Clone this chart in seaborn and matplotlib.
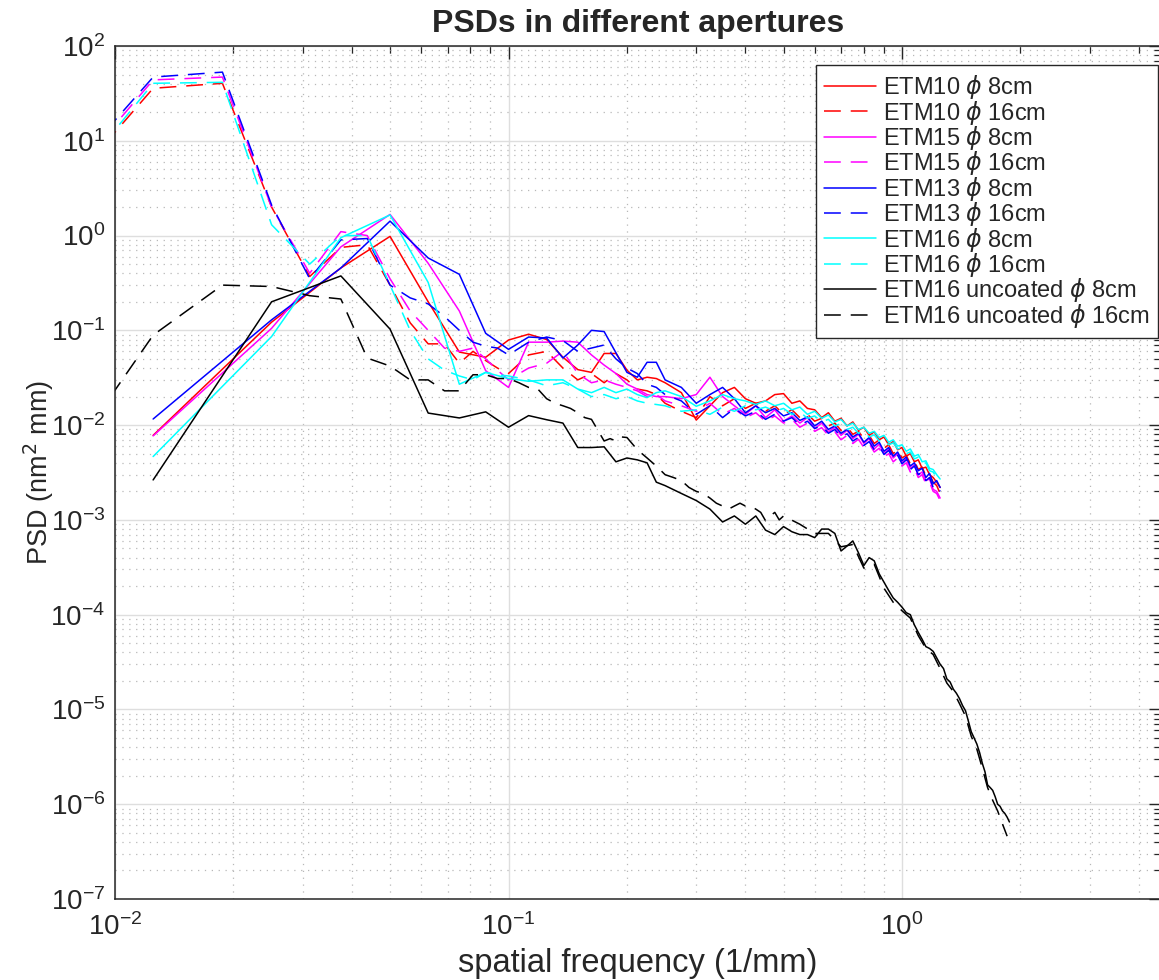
import numpy as np
import pandas as pd
import matplotlib
matplotlib.use("Agg")
import matplotlib.pyplot as plt
from matplotlib.ticker import FixedLocator, LogLocator, NullFormatter
import seaborn as sns

# ---------------- data ----------------
# frequency grids (1/mm)
F8 = [0.0125, 0.025, 0.0375, 0.05, 0.0625, 0.075, 0.0875, 0.1, 0.1125, 0.125,
      0.1375, 0.15, 0.1625, 0.175, 0.1875, 0.2, 0.2125, 0.225, 0.2375, 0.25,
      0.275, 0.3, 0.325, 0.35, 0.375, 0.4, 0.425, 0.45, 0.475, 0.5,
      0.525, 0.55, 0.575, 0.6, 0.625, 0.65, 0.675, 0.7, 0.725, 0.75,
      0.775, 0.8, 0.825, 0.85, 0.875, 0.9, 0.925, 0.95, 0.975, 1.0,
      1.025, 1.05, 1.075, 1.1, 1.125, 1.15, 1.175, 1.2, 1.225, 1.25]

F16 = [0.00625, 0.0125, 0.01875, 0.025, 0.03125, 0.0375, 0.04375, 0.05, 0.05625, 0.0625,
       0.06875, 0.075, 0.08125, 0.0875, 0.09375, 0.1, 0.1125, 0.125, 0.1375, 0.15,
       0.1625, 0.175, 0.1875, 0.2, 0.2125, 0.225, 0.2375, 0.25,
       0.275, 0.3, 0.325, 0.35, 0.375, 0.4, 0.425, 0.45, 0.475, 0.5,
       0.525, 0.55, 0.575, 0.6, 0.625, 0.65, 0.675, 0.7, 0.725, 0.75,
       0.775, 0.8, 0.825, 0.85, 0.875, 0.9, 0.925, 0.95, 0.975, 1.0,
       1.025, 1.05, 1.075, 1.1, 1.125, 1.15, 1.175, 1.2, 1.225, 1.25]

FB8 = [0.0125, 0.025, 0.0375, 0.05, 0.0625, 0.075, 0.0875, 0.1, 0.1125, 0.125,
       0.1375, 0.15, 0.1625, 0.175, 0.1875, 0.2, 0.2125, 0.225, 0.2375, 0.25,
       0.275, 0.3, 0.325, 0.35, 0.375, 0.4, 0.425, 0.45, 0.475, 0.5,
       0.525, 0.55, 0.575, 0.6, 0.625, 0.65, 0.675, 0.7, 0.725, 0.75,
       0.775, 0.8, 0.825, 0.85, 0.875, 0.9, 0.925, 0.95, 0.975, 1.0,
       1.025, 1.05, 1.075, 1.1, 1.125, 1.15, 1.175, 1.2, 1.225, 1.25,
       1.275, 1.3, 1.325, 1.35, 1.375, 1.4, 1.425, 1.45, 1.475, 1.5,
       1.525, 1.55, 1.575, 1.6, 1.625, 1.65, 1.675, 1.7, 1.725, 1.75,
       1.775, 1.8, 1.825, 1.85, 1.875]

FB16 = [0.00625, 0.0125, 0.01875, 0.025, 0.03125, 0.0375, 0.04375, 0.05, 0.05625, 0.0625,
        0.06875, 0.075, 0.08125, 0.0875, 0.09375, 0.1, 0.10625, 0.1125, 0.11875, 0.125,
        0.13125, 0.1375, 0.14375, 0.15, 0.15625, 0.1625, 0.16875, 0.175, 0.18125, 0.1875,
        0.19375, 0.2,
        0.2125, 0.225, 0.2375, 0.25, 0.2625, 0.275, 0.2875, 0.3, 0.3125, 0.325,
        0.3375, 0.35, 0.3625, 0.375, 0.3875, 0.4, 0.4125, 0.425, 0.4375, 0.45,
        0.4625, 0.475, 0.4875, 0.5,
        0.55, 0.6, 0.65, 0.7, 0.75, 0.8, 0.85, 0.9, 0.95, 1.0,
        1.05, 1.1, 1.15, 1.2, 1.25, 1.3, 1.35, 1.4, 1.45, 1.5,
        1.55, 1.6, 1.65, 1.7, 1.75, 1.8, 1.85]

# PSD values (nm^2 mm)
ETM10_8 = [0.0078, 0.122, 0.455, 0.98, 0.2, 0.059, 0.052, 0.079, 0.091, 0.08,
           0.052, 0.0385, 0.036, 0.057, 0.057, 0.038, 0.03, 0.032, 0.031, 0.028,
           0.022, 0.0113, 0.016, 0.022, 0.025, 0.019, 0.017, 0.018, 0.021, 0.0215,
           0.017, 0.018, 0.015, 0.0145, 0.012, 0.0135, 0.011, 0.0118, 0.0098, 0.0108,
           0.0088, 0.0095, 0.0078, 0.0085, 0.007, 0.0075, 0.0062, 0.0067, 0.0055, 0.0058,
           0.0047, 0.005, 0.0041, 0.0043, 0.0035, 0.0036, 0.003, 0.0028, 0.0025, 0.0022]
ETM10_16 = [1.3, 35.8, 40.4, 2.0, 0.37, 0.75, 0.8, 0.3, 0.12, 0.072,
            0.072, 0.045, 0.06, 0.048, 0.04, 0.035, 0.055, 0.06, 0.04, 0.03,
            0.035, 0.028, 0.035, 0.03, 0.024, 0.023, 0.021, 0.017,
            0.014, 0.012, 0.02, 0.016, 0.019, 0.015, 0.017, 0.014, 0.016, 0.013,
            0.0145, 0.012, 0.013, 0.011, 0.0118, 0.0098, 0.0105, 0.0088, 0.0095, 0.008,
            0.0086, 0.0072, 0.0078, 0.0064, 0.007, 0.0057, 0.0062, 0.005, 0.0055, 0.0045,
            0.0048, 0.0039, 0.0042, 0.0034, 0.0036, 0.0029, 0.003, 0.0025, 0.0023, 0.0019]
ETM15_8 = [0.0077, 0.105, 0.76, 1.67, 0.51, 0.16, 0.0375, 0.025, 0.075, 0.075,
           0.077, 0.075, 0.055, 0.043, 0.035, 0.027, 0.024, 0.021, 0.02, 0.02,
           0.019, 0.021, 0.032, 0.02, 0.016, 0.013, 0.016, 0.012, 0.0145, 0.011,
           0.0125, 0.0105, 0.012, 0.0092, 0.0105, 0.0085, 0.0095, 0.0078, 0.0088, 0.0072,
           0.008, 0.0064, 0.0072, 0.0056, 0.0063, 0.005, 0.0056, 0.0045, 0.005, 0.004,
           0.0044, 0.0035, 0.0038, 0.003, 0.0032, 0.0026, 0.0027, 0.0021, 0.002, 0.0017]
ETM15_16 = [1.5, 43.9, 47.0, 2.0, 0.40, 1.1, 1.0, 0.35, 0.16, 0.1,
            0.065, 0.06, 0.065, 0.05, 0.038, 0.03, 0.04, 0.045, 0.06, 0.035,
            0.028, 0.03, 0.027, 0.025, 0.023, 0.02, 0.021, 0.018,
            0.016, 0.014, 0.017, 0.013, 0.015, 0.012, 0.0135, 0.011, 0.0125, 0.0105,
            0.0115, 0.0095, 0.0105, 0.0086, 0.0094, 0.0078, 0.0085, 0.007, 0.0078, 0.0064,
            0.0071, 0.0058, 0.0064, 0.0052, 0.0057, 0.0046, 0.005, 0.0041, 0.0045, 0.0037,
            0.004, 0.0032, 0.0035, 0.0028, 0.003, 0.0024, 0.0025, 0.002, 0.0019, 0.0016]
ETM13_8 = [0.0116, 0.129, 0.455, 1.42, 0.58, 0.39, 0.093, 0.063, 0.085, 0.083,
           0.051, 0.07, 0.1, 0.097, 0.058, 0.036, 0.032, 0.046, 0.046, 0.03,
           0.025, 0.017, 0.021, 0.025, 0.019, 0.0135, 0.016, 0.0135, 0.015, 0.0125,
           0.0135, 0.0112, 0.0122, 0.0098, 0.011, 0.009, 0.0098, 0.0082, 0.009, 0.0075,
           0.0082, 0.0066, 0.0074, 0.006, 0.0066, 0.0053, 0.0058, 0.0047, 0.0052, 0.0042,
           0.0046, 0.0037, 0.004, 0.0033, 0.0035, 0.0028, 0.0031, 0.0024, 0.0026, 0.0022]
ETM13_16 = [1.8, 47.0, 53.0, 2.1, 0.35, 0.9, 0.93, 0.3, 0.22, 0.19,
            0.14, 0.1, 0.075, 0.068, 0.065, 0.055, 0.075, 0.085, 0.078, 0.06,
            0.065, 0.07, 0.05, 0.04, 0.035, 0.027, 0.025, 0.021,
            0.018, 0.013, 0.016, 0.012, 0.015, 0.0125, 0.014, 0.0115, 0.013, 0.011,
            0.012, 0.01, 0.011, 0.0092, 0.0099, 0.0082, 0.009, 0.0075, 0.0081, 0.0068,
            0.0074, 0.0061, 0.0067, 0.0055, 0.006, 0.0049, 0.0054, 0.0044, 0.0048, 0.0039,
            0.0043, 0.0034, 0.0037, 0.003, 0.0032, 0.0026, 0.0028, 0.0022, 0.0023, 0.002]
ETM16_8 = [0.00466, 0.086, 0.95, 1.65, 0.32, 0.027, 0.036, 0.031, 0.029, 0.03,
           0.03, 0.024, 0.022, 0.025, 0.022, 0.024, 0.021, 0.0195, 0.022, 0.023,
           0.02, 0.0158, 0.018, 0.021, 0.019, 0.018, 0.0165, 0.018, 0.016, 0.017,
           0.0145, 0.0155, 0.013, 0.014, 0.0118, 0.0128, 0.0108, 0.0115, 0.0098, 0.0105,
           0.009, 0.0095, 0.0082, 0.0086, 0.0074, 0.0078, 0.0066, 0.007, 0.006, 0.0062,
           0.0053, 0.0056, 0.0047, 0.0049, 0.0041, 0.0042, 0.0035, 0.0034, 0.003, 0.0027]
ETM16_16 = [1.2, 40.4, 41.4, 1.3, 0.5, 1.0, 1.0, 0.3, 0.1, 0.05,
            0.038, 0.033, 0.03, 0.036, 0.034, 0.033, 0.03, 0.026, 0.028, 0.024,
            0.02, 0.021, 0.019, 0.02, 0.018, 0.017, 0.0165, 0.016,
            0.014, 0.0145, 0.013, 0.0155, 0.014, 0.016, 0.0145, 0.0155, 0.014, 0.015,
            0.013, 0.0138, 0.0118, 0.0125, 0.0108, 0.0115, 0.0098, 0.0104, 0.009, 0.0095,
            0.0082, 0.0087, 0.0075, 0.0079, 0.0068, 0.0072, 0.0062, 0.0065, 0.0056, 0.0058,
            0.005, 0.0052, 0.0044, 0.0046, 0.0039, 0.004, 0.0033, 0.0032, 0.0028, 0.0025]
ETM16U_8 = [0.00264, 0.2, 0.375, 0.103, 0.0134, 0.0119, 0.0138, 0.0095, 0.0126, 0.0114,
            0.0105, 0.0058, 0.0058, 0.0059, 0.0041, 0.0045, 0.0043, 0.004, 0.0025, 0.0023,
            0.0019, 0.0016, 0.0013, 0.00095, 0.0011, 0.0009, 0.0011, 0.00078, 0.0007, 0.00085,
            0.00075, 0.0007, 0.0007, 0.00065, 0.0008, 0.0008, 0.00072, 0.00047, 0.00053, 0.0006,
            0.00045, 0.00033, 0.0004, 0.00037, 0.00027, 0.00022, 0.00018, 0.00015, 0.000135, 0.00012,
            0.000105, 0.0001, 0.000078, 0.000065, 0.000055, 0.000046, 0.000044, 0.000041, 0.000035, 0.00003,
            0.000027, 0.000021, 0.0000195, 0.0000164, 0.0000148, 0.000013, 0.000011, 0.0000097, 0.0000075, 0.0000058,
            0.000005, 0.0000043, 0.0000035, 0.0000027, 0.0000022, 0.0000016, 0.0000015, 0.0000014, 0.0000012, 0.000001,
            0.00000095, 0.00000085, 0.0000008, 0.00000073, 0.00000065]
ETM16U_16 = [0.0014, 0.089, 0.30, 0.29, 0.232, 0.214, 0.051, 0.042, 0.03, 0.03,
             0.023, 0.023, 0.034, 0.034, 0.031, 0.031, 0.028, 0.025, 0.024, 0.019,
             0.017, 0.016, 0.015, 0.0135, 0.012, 0.0115, 0.0088, 0.0068, 0.0072, 0.0068,
             0.0075, 0.0074,
             0.0055, 0.0045, 0.0037, 0.003, 0.0028, 0.0026, 0.0022, 0.002, 0.0019, 0.0017,
             0.0015, 0.0014, 0.0013, 0.0014, 0.0015, 0.0014, 0.0014, 0.0013, 0.0012, 0.00098,
             0.0011, 0.0012, 0.001, 0.0011,
             0.0009, 0.00072, 0.00072, 0.00052, 0.00055, 0.00031, 0.00034, 0.00019, 0.000135, 0.00011,
             0.000092, 0.00006, 0.000044, 0.000038, 0.000027, 0.000019, 0.0000155, 0.0000115, 0.0000085, 0.0000052,
             0.0000038, 0.0000024, 0.0000015, 0.0000011, 0.00000085, 0.00000062, 0.00000046]

LABELS = [r"ETM10 $\phi$ 8cm", r"ETM10 $\phi$ 16cm",
          r"ETM15 $\phi$ 8cm", r"ETM15 $\phi$ 16cm",
          r"ETM13 $\phi$ 8cm", r"ETM13 $\phi$ 16cm",
          r"ETM16 $\phi$ 8cm", r"ETM16 $\phi$ 16cm",
          r"ETM16 uncoated $\phi$ 8cm", r"ETM16 uncoated $\phi$ 16cm"]
SERIES = [(F8, ETM10_8), (F16, ETM10_16), (F8, ETM15_8), (F16, ETM15_16),
          (F8, ETM13_8), (F16, ETM13_16), (F8, ETM16_8), (F16, ETM16_16),
          (FB8, ETM16U_8), (FB16, ETM16U_16)]
COLORS = ["#ff0000", "#ff0000", "#ff00ff", "#ff00ff", "#0000ff", "#0000ff",
          "#00ffff", "#00ffff", "#000000", "#000000"]
DASHED = [False, True, False, True, False, True, False, True, False, True]
XTICKS = [0.01, 0.1, 1.0]
YTICKS = [1e-7, 1e-6, 1e-5, 1e-4, 1e-3, 1e-2, 1e-1, 1e0, 1e1, 1e2]

# ---------------- style ----------------
sns.set_style("white")
plt.rcParams["font.family"] = ["Liberation Sans", "DejaVu Sans"]
plt.rcParams["mathtext.fontset"] = "dejavusans"

W, H = 1159, 980
fig = plt.figure(figsize=(W / 100, H / 100), dpi=100)
L, R, T, B = 115, 1161, 46, 899
ax = fig.add_axes([L / W, 1 - B / H, (R - L) / W, (B - T) / H])
ax.set_xscale("log")
ax.set_yscale("log")

for (f, v), lab, col, dsh in zip(SERIES, LABELS, COLORS, DASHED):
    df = pd.DataFrame({"f": f, "psd": v})
    sns.lineplot(data=df, x="f", y="psd", ax=ax, color=col, lw=1.1,
                 estimator=None, sort=False, label=lab, legend=False)
    line = ax.lines[-1]
    if dsh:
        line.set_dashes((11, 6.5))

xmax = 10 ** ((R - L) / 393.5 - 2)
ax.set_xlim(0.01, xmax)
ax.set_ylim(1e-7, 1e2)

ax.xaxis.set_major_locator(FixedLocator(XTICKS))
ax.yaxis.set_major_locator(FixedLocator(YTICKS))
ax.xaxis.set_minor_locator(LogLocator(base=10, subs=np.arange(2, 10), numticks=100))
ax.yaxis.set_minor_locator(LogLocator(base=10, subs=np.arange(2, 10), numticks=100))
ax.xaxis.set_minor_formatter(NullFormatter())
ax.yaxis.set_minor_formatter(NullFormatter())

ax.grid(which="major", color="#dedede", ls="-", lw=1.0)
ax.grid(which="minor", color="#b8b8b8", ls=(0, (1, 4.5)), lw=0.9)
ax.set_axisbelow(True)

ax.tick_params(which="both", direction="in", top=True, right=True,
               colors="#262626", labelcolor="#262626")
ax.tick_params(which="major", length=9, width=1.0, labelsize=20)
ax.tick_params(axis="x", which="major", pad=10)
ax.tick_params(axis="y", which="major", pad=7)
ax.tick_params(which="minor", length=5, width=0.9)
for s in ax.spines.values():
    s.set_color("#262626")
    s.set_linewidth(1.1)

ax.set_xlabel("spatial frequency (1/mm)", fontsize=23.5, color="#262626", labelpad=5)
ax.set_ylabel(r"PSD (nm$^2$ mm)", fontsize=19.5, color="#262626", labelpad=-4)
ax.set_title("PSDs in different apertures", fontsize=23, fontweight="bold", pad=10)

handles, labels = ax.get_legend_handles_labels()
leg = ax.legend(handles, labels, loc="upper right",
                bbox_to_anchor=(1158 / W, 1 - 65 / H), bbox_transform=fig.transFigure,
                fontsize=17, frameon=True, fancybox=False, edgecolor="#262626",
                framealpha=1, handlelength=2.2, handletextpad=0.3,
                labelspacing=-0.11, borderpad=0.35, borderaxespad=0)
leg.get_frame().set_linewidth(1.0)

fig.savefig("out.png", dpi=100)
